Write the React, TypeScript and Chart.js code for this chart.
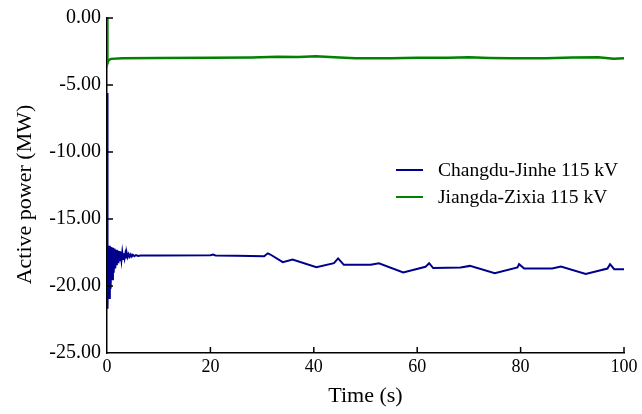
import { useEffect, useRef } from 'react';
import { Chart, registerables } from 'chart.js';

Chart.register(...registerables);

// Changdu-Jinhe 115 kV line: time (s) and active power (MW)
const changduTime = [
  0, 0.1, 0.25, 0.4, 0.55, 0.7, 0.85, 1.0, 1.15, 1.3, 1.45, 1.6, 1.75, 1.9, 2.05, 2.2,
  2.35, 2.5, 2.65, 2.8, 2.95, 3.1, 3.25, 3.4, 3.55, 3.7, 3.85, 4.0, 4.2, 4.4, 4.6, 4.8,
  5.0, 5.3, 5.6, 6.0, 6.5, 10, 20, 20.5, 21, 25, 30.4, 31.1, 31.6, 34.0, 35.9, 40.5,
  43.9, 44.7, 45.3, 45.8, 51.0, 52.6, 57.3, 61.6, 62.3, 63.1, 68.4, 70.2, 75.0, 79.4,
  79.7, 80.7, 86.1, 87.8, 92.6, 96.8, 97.3, 98.1, 100,
];
const changduPower = [
  -5.6, -21.7, -17.0, -20.9, -17.0, -20.2, -17.1, -19.5, -17.15, -19.0, -17.2, -18.7,
  -17.3, -18.45, -17.35, -18.3, -17.4, -18.15, -17.45, -18.05, -17.5, -17.98, -17.55,
  -17.92, -17.58, -17.88, -17.6, -17.85, -17.62, -17.82, -17.65, -17.8, -17.67, -17.78,
  -17.69, -17.76, -17.72, -17.72, -17.7, -17.66, -17.72, -17.74, -17.78, -17.56, -17.65,
  -18.22, -18.02, -18.59, -18.3, -17.94, -18.2, -18.42, -18.42, -18.31, -18.99, -18.57,
  -18.3, -18.66, -18.62, -18.5, -19.05, -18.62, -18.37, -18.7, -18.7, -18.55, -19.1,
  -18.7, -18.37, -18.75, -18.75,
];

// Jiangda-Zixia 115 kV line: time (s) and active power (MW)
const jiangdaTime = [
  0, 0.08, 0.3, 0.8, 3, 10, 20, 28, 33, 37, 40.4, 44, 48, 55, 60, 66, 70, 74, 78, 85,
  90, 95, 98, 100,
];
const jiangdaPower = [
  0, -3.4, -3.15, -3.05, -3.0, -2.98, -2.97, -2.95, -2.9, -2.91, -2.86, -2.93, -3.0,
  -3.0, -2.97, -2.96, -2.92, -2.98, -3.01, -3.0, -2.94, -2.93, -3.04, -3.0,
];

const seriesLabels = ['Changdu-Jinhe 115 kV', 'Jiangda-Zixia 115 kV'];
const seriesColors = ['#00008c', '#008200'];
const yAxisTitle = 'Active power (MW)';
const xAxisTitle = 'Time (s)';

const xMin = 0;
const xMax = 100;
const xStep = 20;
const yMin = -25;
const yMax = 0;
const yStep = 5;

const FONT = '"Liberation Serif", "Times New Roman", serif';

const toPoints = (xs: number[], ys: number[]) => xs.map((x, i) => ({ x, y: ys[i] }));

// Inward tick marks, the rotated y-axis title and the frameless legend.
const framePlugin = {
  id: 'frameDecor',
  afterDatasetsDraw(chart: any) {
    const { ctx, chartArea, scales } = chart;
    const len = 6;
    ctx.save();
    ctx.strokeStyle = '#000';
    ctx.lineWidth = 1.5;
    scales.x.ticks.forEach((t: any) => {
      if (t.value === xMin) return;
      const px = scales.x.getPixelForValue(t.value);
      ctx.beginPath();
      ctx.moveTo(px, chartArea.bottom);
      ctx.lineTo(px, chartArea.bottom - len);
      ctx.stroke();
    });
    scales.y.ticks.forEach((t: any) => {
      if (t.value === yMin) return;
      const py = scales.y.getPixelForValue(t.value);
      ctx.beginPath();
      ctx.moveTo(chartArea.left, py);
      ctx.lineTo(chartArea.left + len, py);
      ctx.stroke();
    });
    ctx.restore();
  },
  afterDraw(chart: any) {
    const { ctx, chartArea } = chart;
    ctx.save();
    // y-axis title
    ctx.save();
    ctx.translate(25, (chartArea.top + chartArea.bottom) / 2 + 9);
    ctx.rotate(-Math.PI / 2);
    ctx.font = `22px ${FONT}`;
    ctx.fillStyle = '#000';
    ctx.textAlign = 'center';
    ctx.textBaseline = 'middle';
    ctx.fillText(yAxisTitle, 0, 0);
    ctx.restore();
    // legend
    const x0 = 396;
    const lineLen = 27;
    const textX = 438;
    const rows = [170, 197];
    ctx.font = `19.5px ${FONT}`;
    ctx.textBaseline = 'middle';
    ctx.textAlign = 'left';
    chart.data.datasets.forEach((ds: any, i: number) => {
      const y = rows[i];
      ctx.strokeStyle = ds.borderColor;
      ctx.lineWidth = 2;
      ctx.beginPath();
      ctx.moveTo(x0, y);
      ctx.lineTo(x0 + lineLen, y);
      ctx.stroke();
      ctx.fillStyle = '#000';
      ctx.fillText(ds.label, textX, y + 1);
    });
    ctx.restore();
  },
};

export default function App() {
  const canvasRef = useRef<HTMLCanvasElement>(null);

  useEffect(() => {
    const canvas = canvasRef.current;
    if (!canvas) return;
    const chart = new Chart(canvas, {
      type: 'line',
      data: {
        datasets: [
          {
            label: seriesLabels[0],
            data: toPoints(changduTime, changduPower),
            borderColor: seriesColors[0],
            backgroundColor: seriesColors[0],
            borderWidth: 2,
            pointRadius: 0,
            tension: 0,
          },
          {
            label: seriesLabels[1],
            data: toPoints(jiangdaTime, jiangdaPower),
            borderColor: seriesColors[1],
            backgroundColor: seriesColors[1],
            borderWidth: 2.5,
            pointRadius: 0,
            tension: 0,
          },
        ],
      },
      options: {
        responsive: false,
        animation: false,
        devicePixelRatio: 1,
        layout: { padding: { top: 16, right: 18, left: 0, bottom: 0 } },
        plugins: {
          legend: { display: false },
          tooltip: { enabled: false },
        },
        scales: {
          x: {
            type: 'linear',
            min: xMin,
            max: xMax,
            grid: { display: false, drawTicks: false },
            border: { display: true, color: '#000', width: 1.5 },
            ticks: {
              stepSize: xStep,
              padding: 3,
              color: '#000',
              font: { family: FONT, size: 18 },
            },
            title: {
              display: true,
              text: xAxisTitle,
              color: '#000',
              font: { family: FONT, size: 22 },
              padding: { top: 0, bottom: 5 },
            },
            afterFit: (s: any) => {
              s.height = 61;
            },
          },
          y: {
            type: 'linear',
            min: yMin,
            max: yMax,
            grid: { display: false, drawTicks: false },
            border: { display: true, color: '#000', width: 1.5 },
            ticks: {
              stepSize: yStep,
              padding: 6,
              color: '#000',
              font: { family: FONT, size: 20 },
              callback: (v: any) => Number(v).toFixed(2),
            },
            title: { display: false },
            afterFit: (s: any) => {
              s.width = 107;
            },
          },
        },
      },
      plugins: [framePlugin],
    });
    return () => chart.destroy();
  }, []);

  return (
    <div style={{ position: 'fixed', left: 0, top: 0, width: 642, height: 414, background: '#fff' }}>
      <canvas ref={canvasRef} width={642} height={414} style={{ display: 'block' }} />
    </div>
  );
}
